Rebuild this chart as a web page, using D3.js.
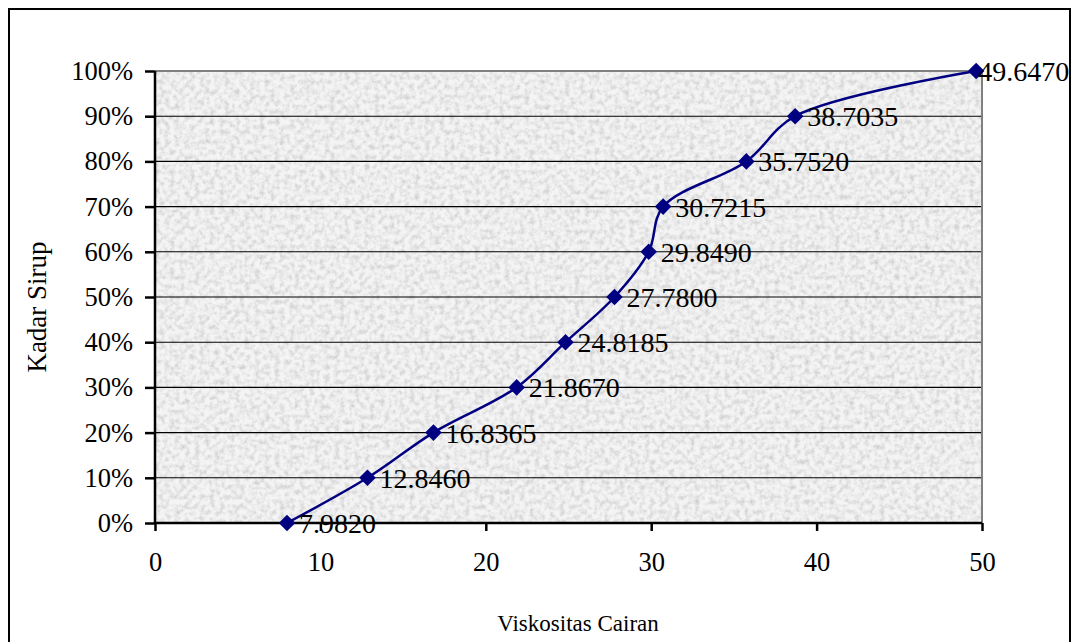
<!DOCTYPE html>
<html>
<head>
<meta charset="utf-8">
<script src="https://cdn.jsdelivr.net/npm/d3@7"></script>
<style>
  html, body { margin: 0; padding: 0; background: #fff; }
  svg { display: block; }
  text { font-family: "Liberation Serif", "Times New Roman", serif; fill: #000; }
</style>
</head>
<body>
<svg id="chart" width="1071" height="642"></svg>
<script>
// ---- data ----
const viscosity = [7.9820, 12.8460, 16.8365, 21.8670, 24.8185, 27.7800, 29.8490, 30.7215, 35.7520, 38.7035, 49.6470];
const syrupLevel = [0, 10, 20, 30, 40, 50, 60, 70, 80, 90, 100];
const xTicks = [0, 10, 20, 30, 40, 50];
const yTicks = [0, 10, 20, 30, 40, 50, 60, 70, 80, 90, 100];
const xTitle = "Viskositas Cairan";
const yTitle = "Kadar Sirup";

const svg = d3.select("#chart");
const plot = { left: 155, right: 982, top: 71, bottom: 523 };

// granite-like texture for plot area
const defs = svg.append("defs");
const filt = defs.append("filter").attr("id", "granite")
  .attr("x", 0).attr("y", 0).attr("width", "100%").attr("height", "100%");
filt.append("feTurbulence").attr("type", "fractalNoise").attr("baseFrequency", 0.2)
  .attr("numOctaves", 3).attr("seed", 7).attr("result", "noise");
filt.append("feColorMatrix").attr("in", "noise").attr("type", "matrix")
  .attr("values", "0 0 0 0 0  0 0 0 0 0  0 0 0 0 0  0 0 0 -1.7 1.05")
  .attr("result", "alpha");
filt.append("feFlood").attr("flood-color", "#c8c8c8").attr("result", "flood");
filt.append("feComposite").attr("in", "flood").attr("in2", "alpha").attr("operator", "in").attr("result", "spots");
filt.append("feFlood").attr("flood-color", "#f4f4f4").attr("result", "base");
filt.append("feMerge").selectAll("feMergeNode").data(["base", "spots"]).enter()
  .append("feMergeNode").attr("in", d => d);

// outer frame
svg.append("rect").attr("x", 9).attr("y", 9).attr("width", 1061).attr("height", 660)
  .attr("fill", "#fff").attr("stroke", "#000").attr("stroke-width", 2);

const x = d3.scaleLinear().domain([0, 50]).range([plot.left, plot.right]);
const y = d3.scaleLinear().domain([0, 100]).range([plot.bottom, plot.top]);

// plot area background
svg.append("rect").attr("x", plot.left).attr("y", plot.top)
  .attr("width", plot.right - plot.left).attr("height", plot.bottom - plot.top)
  .attr("filter", "url(#granite)");

// gridlines
svg.append("g").selectAll("line").data(yTicks.filter(d => d > 0 && d < 100)).enter()
  .append("line")
  .attr("x1", plot.left).attr("x2", plot.right)
  .attr("y1", d => y(d)).attr("y2", d => y(d))
  .attr("stroke", "#000").attr("stroke-width", 1.1);

// plot border (top/right gray)
svg.append("path")
  .attr("d", `M${plot.left},${plot.top}H${plot.right}V${plot.bottom}`)
  .attr("fill", "none").attr("stroke", "#808080").attr("stroke-width", 2);

// axes
const yAxis = d3.axisLeft(y).tickValues(yTicks).tickFormat(d => d + "%")
  .tickSize(10).tickPadding(12);
const gy = svg.append("g").attr("transform", `translate(${plot.left},0)`).call(yAxis);
const xAxis = d3.axisBottom(x).tickValues(xTicks).tickFormat(d3.format("d"))
  .tickSize(8).tickPadding(21);
const gx = svg.append("g").attr("transform", `translate(0,${plot.bottom})`).call(xAxis);
[gx, gy].forEach(g => {
  g.select(".domain").attr("stroke", "#000").attr("stroke-width", 2.5);
  g.selectAll(".tick line").attr("stroke", "#000").attr("stroke-width", 2.5);
  g.selectAll(".tick text").attr("font-size", 26.5).attr("font-family", "Liberation Serif").attr("fill", "#000");
});
gx.select(".domain").attr("d", `M${plot.left},0H${plot.right}`);
gy.select(".domain").attr("d", `M0,${plot.top}V${plot.bottom}`);

// series
const pts = viscosity.map((v, i) => ({ v, s: syrupLevel[i] }));
const line = d3.line().x(d => x(d.v)).y(d => y(d.s)).curve(d3.curveCatmullRom.alpha(0.5));
svg.append("path").datum(pts).attr("d", line)
  .attr("fill", "none").attr("stroke", "#000080").attr("stroke-width", 2.5);

svg.append("g").selectAll("path").data(pts).enter().append("path")
  .attr("d", d3.symbol().type(d3.symbolDiamond2).size(175))
  .attr("transform", d => `translate(${x(d.v)},${y(d.s)})`)
  .attr("fill", "#000080");

svg.append("g").selectAll("text").data(pts).enter().append("text")
  .attr("x", d => x(d.v) + (d.s === 100 ? 2 : 12)).attr("y", d => y(d.s) + 10)
  .attr("font-size", 28)
  .text(d => d.v.toFixed(4));

// axis titles
svg.append("text").attr("x", 578).attr("y", 631)
  .attr("text-anchor", "middle").attr("font-size", 23).text(xTitle);
svg.append("text").attr("transform", `translate(46,${(plot.top + plot.bottom) / 2 + 10}) rotate(-90)`)
  .attr("text-anchor", "middle").attr("font-size", 27).text(yTitle);
</script>
</body>
</html>
